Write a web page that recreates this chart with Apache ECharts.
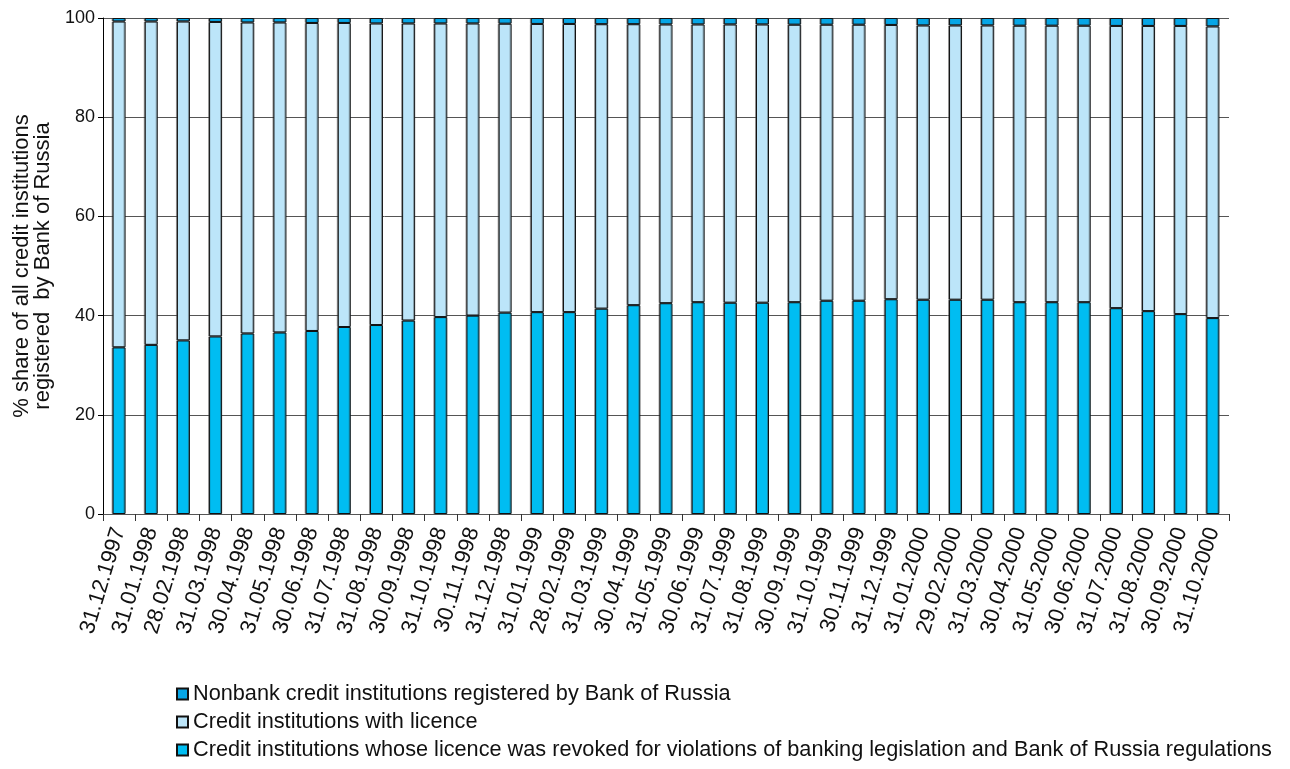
<!DOCTYPE html>
<html>
<head>
<meta charset="utf-8">
<script src="https://cdn.jsdelivr.net/npm/echarts@6/dist/echarts.min.js"></script>
<style>
  html, body { margin: 0; padding: 0; background: #fff; }
  #chart { width: 1290px; height: 769px; }
</style>
</head>
<body>
<div id="chart"></div>
<script>
// month-end dates
const dates = [
  '31.12.1997', '31.01.1998', '28.02.1998', '31.03.1998', '30.04.1998', '31.05.1998',
  '30.06.1998', '31.07.1998', '31.08.1998', '30.09.1998', '31.10.1998', '30.11.1998',
  '31.12.1998', '31.01.1999', '28.02.1999', '31.03.1999', '30.04.1999', '31.05.1999',
  '30.06.1999', '31.07.1999', '31.08.1999', '30.09.1999', '31.10.1999', '30.11.1999',
  '31.12.1999', '31.01.2000', '29.02.2000', '31.03.2000', '30.04.2000', '31.05.2000',
  '30.06.2000', '31.07.2000', '31.08.2000', '30.09.2000', '31.10.2000'
]

// % shares
const revoked = [
  33.6, 34.1, 35.0, 35.8, 36.4, 36.6, 36.9, 37.7, 38.1, 39.0, 39.7, 40.0,
  40.6, 40.7, 40.7, 41.4, 42.1, 42.5, 42.7, 42.6, 42.6, 42.7, 43.0, 43.0,
  43.3, 43.2, 43.2, 43.2, 42.7, 42.7, 42.7, 41.5, 40.9, 40.3, 39.5
]
const licensed = [
  65.7, 65.2, 64.3, 63.4, 62.7, 62.5, 62.1, 61.3, 60.8, 59.9, 59.2, 58.9,
  58.25, 58.1, 58.1, 57.35, 56.65, 56.2, 56.0, 56.1, 56.1, 55.95, 55.65, 55.65,
  55.3, 55.3, 55.3, 55.3, 55.75, 55.75, 55.75, 56.9, 57.5, 58.1, 58.8
]
const nonbank = [
  0.7, 0.7, 0.7, 0.8, 0.9, 0.9, 1.0, 1.0, 1.1, 1.1, 1.1, 1.1,
  1.15, 1.2, 1.2, 1.25, 1.25, 1.3, 1.3, 1.3, 1.3, 1.35, 1.35, 1.35,
  1.4, 1.5, 1.5, 1.5, 1.55, 1.55, 1.55, 1.6, 1.6, 1.6, 1.7
]

const yTicks = [0, 20, 40, 60, 80, 100]

const names = {
  nonbank: 'Nonbank credit institutions registered by Bank of Russia',
  licensed: 'Credit institutions with licence',
  revoked: 'Credit institutions whose licence was revoked for violations of banking legislation and Bank of Russia regulations'
}

const font = '"Liberation Sans", Arial, Helvetica, sans-serif'

// bar look shared by all three stacks
const barStyle = color => ({
  color: color,
  borderColor: '#111',
  borderWidth: 1,
  shadowColor: 'rgba(60,60,60,0.45)',
  shadowOffsetX: -1,
  shadowBlur: 0
})

const chart = echarts.init(document.getElementById('chart'))
chart.setOption({
  animation: false,
  textStyle: { fontFamily: font },
  grid: {
    left: 103,
    right: 61,
    top: 18,
    bottom: 255
  },
  legend: {
    orient: 'vertical',
    left: 171,
    top: 678,
    itemWidth: 11,
    itemHeight: 11,
    itemGap: 6,
    icon: 'rect',
    data: [names.nonbank, names.licensed, names.revoked],
    textStyle: { fontSize: 21.7, color: '#111', fontFamily: font }
  },
  xAxis: {
    type: 'category',
    data: dates,
    axisLine: { lineStyle: { color: '#555', width: 1 } },
    axisTick: { show: true, length: 7, lineStyle: { color: '#333' } },
    axisLabel: {
      rotate: 73,
      fontSize: 22,
      color: '#111',
      margin: 14,
      interval: 0
    }
  },
  yAxis: {
    type: 'value',
    min: yTicks[0],
    max: yTicks[yTicks.length - 1],
    interval: 20,
    name: '% share of all credit institutions\nregistered  by Bank of Russia',
    nameLocation: 'middle',
    nameGap: 49,
    nameTextStyle: { fontSize: 22, color: '#111', lineHeight: 21 },
    axisLine: { show: true, lineStyle: { color: '#000', width: 1 } },
    axisTick: { show: true, length: 5, lineStyle: { color: '#000' } },
    axisLabel: { fontSize: 18, color: '#111', margin: 8 },
    splitLine: { lineStyle: { color: '#555', width: 1 } }
  },
  series: [
    {
      name: names.revoked,
      type: 'bar',
      stack: 'total',
      barWidth: 13,
      data: revoked,
      itemStyle: barStyle('#00bdf2')
    },
    {
      name: names.licensed,
      type: 'bar',
      stack: 'total',
      barWidth: 13,
      data: licensed,
      itemStyle: barStyle('#bce5f9')
    },
    {
      name: names.nonbank,
      type: 'bar',
      stack: 'total',
      barWidth: 13,
      data: nonbank,
      itemStyle: barStyle('#07a6e6')
    }
  ]
})
</script>
</body>
</html>
